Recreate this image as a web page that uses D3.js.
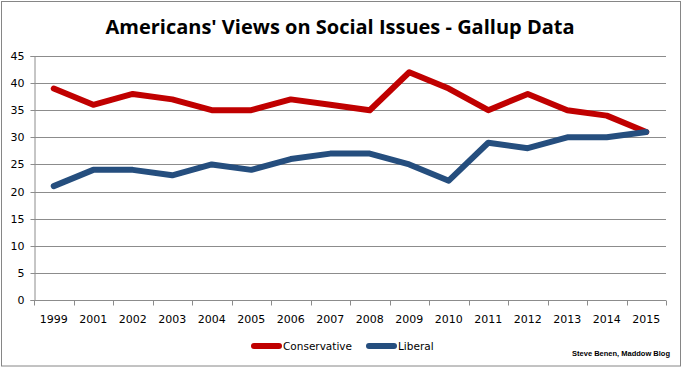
<!DOCTYPE html>
<html>
<head>
<meta charset="utf-8">
<script src="https://cdn.jsdelivr.net/npm/d3@7"></script>
<style>
  body { margin: 0; background: #fff; }
  svg text { font-family: "DejaVu Sans", Verdana, sans-serif; }
</style>
</head>
<body>
<div id="chart"></div>
<script>
// chart data
var years = ["1999", "2001", "2002", "2003", "2004", "2005", "2006", "2007",
             "2008", "2009", "2010", "2011", "2012", "2013", "2014", "2015"];
var conservative = [39, 36, 38, 37, 35, 35, 37, 36, 35, 42, 39, 35, 38, 35, 34, 31];
var liberal = [21, 24, 24, 23, 25, 24, 26, 27, 27, 25, 22, 29, 28, 30, 30, 31];
var yTicks = [0, 5, 10, 15, 20, 25, 30, 35, 40, 45];

var W = 682, H = 367;
var margin = {top: 56, right: 16, bottom: 67, left: 34},
    width = W - margin.left - margin.right,
    height = H - margin.top - margin.bottom;

var svg = d3.select("#chart").append("svg")
  .attr("width", W)
  .attr("height", H);

// outer frame
svg.append("rect")
  .attr("x", 1.5).attr("y", 1.5)
  .attr("width", W - 3).attr("height", H - 2.5)
  .attr("fill", "none")
  .attr("stroke", "#868686");

// title
svg.append("text")
  .attr("x", 340).attr("y", 34)
  .attr("text-anchor", "middle")
  .style("font-family", "'Open Sans', sans-serif")
  .style("font-weight", "bold")
  .style("font-size", "20px")
  .text("Americans' Views on Social Issues - Gallup Data");

var g = svg.append("g")
  .attr("transform", "translate(" + margin.left + "," + margin.top + ")");

var x = d3.scaleBand().domain(years).range([0, width]);
var y = d3.scaleLinear().domain([0, 45]).range([height, 0]);

// gridlines
g.append("g")
  .selectAll("line")
  .data(yTicks.filter(d => d > 0))
  .enter().append("line")
    .attr("x1", 0).attr("x2", width)
    .attr("y1", d => Math.round(y(d)) + 0.5)
    .attr("y2", d => Math.round(y(d)) + 0.5)
    .attr("stroke", "#8c8c8c");

// y axis
var yAxis = g.append("g")
  .attr("transform", "translate(0.5,0)")
  .call(d3.axisLeft(y).tickValues(yTicks).tickSize(4).tickPadding(6));
yAxis.select(".domain").attr("stroke", "#8c8c8c");
yAxis.selectAll(".tick line").attr("stroke", "#8c8c8c");
yAxis.selectAll(".tick").attr("transform", d => "translate(0," + (Math.round(y(d)) + 0.5) + ")");
yAxis.selectAll("text").style("font-size", "11px").attr("fill", "#000");

// x axis with ticks between categories
var xAxis = g.append("g")
  .attr("transform", "translate(0," + (Math.round(height) + 0.5) + ")");
xAxis.append("line")
  .attr("x1", 0).attr("x2", width)
  .attr("stroke", "#8c8c8c");
xAxis.selectAll(".sep")
  .data(d3.range(years.length + 1))
  .enter().append("line")
    .attr("class", "sep")
    .attr("x1", i => Math.round(i * x.step()) + 0.5)
    .attr("x2", i => Math.round(i * x.step()) + 0.5)
    .attr("y1", 0).attr("y2", 5)
    .attr("stroke", "#8c8c8c");
xAxis.selectAll(".lab")
  .data(years)
  .enter().append("text")
    .attr("class", "lab")
    .attr("x", d => x(d) + x.bandwidth() / 2)
    .attr("y", 22)
    .attr("text-anchor", "middle")
    .style("font-size", "11px")
    .text(d => d);

// lines
var line = d3.line()
  .x((d, i) => x(years[i]) + x.bandwidth() / 2)
  .y(d => y(d));

g.append("path")
  .datum(conservative)
  .attr("d", line)
  .attr("fill", "none")
  .attr("stroke", "#c00000")
  .attr("stroke-width", 6)
  .attr("stroke-linejoin", "round")
  .attr("stroke-linecap", "round");

g.append("path")
  .datum(liberal)
  .attr("d", line)
  .attr("fill", "none")
  .attr("stroke", "#254e7e")
  .attr("stroke-width", 6)
  .attr("stroke-linejoin", "round")
  .attr("stroke-linecap", "round");

// legend
var legend = [
  {name: "Conservative", color: "#c00000", x: 254},
  {name: "Liberal", color: "#254e7e", x: 369}
];
legend.forEach(function(l) {
  svg.append("line")
    .attr("x1", l.x).attr("x2", l.x + 25)
    .attr("y1", 346).attr("y2", 346)
    .attr("stroke", l.color)
    .attr("stroke-width", 6)
    .attr("stroke-linecap", "round");
  svg.append("text")
    .attr("x", l.x + 29).attr("y", 350)
    .style("font-size", "10.5px")
    .text(l.name);
});

// credit
svg.append("text")
  .attr("x", 670).attr("y", 356)
  .attr("text-anchor", "end")
  .style("font-family", "'Liberation Sans', Arial, sans-serif")
  .style("font-weight", "bold")
  .style("font-size", "7.5px")
  .text("Steve Benen, Maddow Blog");
</script>
</body>
</html>
